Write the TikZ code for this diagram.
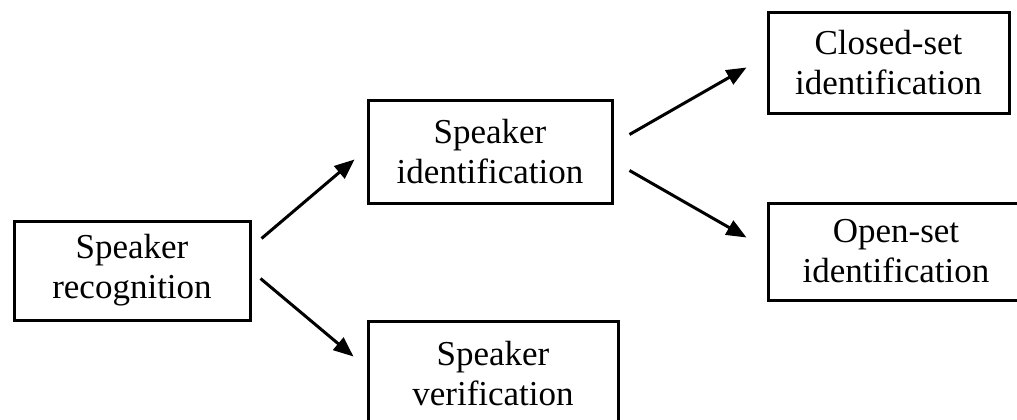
\documentclass[tikz,border=0pt]{standalone}
\usepackage{fontspec}
\setmainfont{Liberation Serif}
\usetikzlibrary{calc,arrows.meta}
\begin{document}
\begin{tikzpicture}[x=1pt,y=-1pt,
  box/.style={draw, line width=3pt, inner sep=0pt, align=center,
    font=\fontsize{35}{40}\selectfont},
  arr/.style={line width=3pt, -{Triangle[length=20pt,width=16pt]}}]
\useasboundingbox (0,0) rectangle (1017,420);
\node[box, minimum width=236pt, minimum height=99pt] (rec) at (132,270.5) {Speaker\\recognition};
\node[box, minimum width=244pt, minimum height=103pt] (idf) at (490,151.5) {Speaker\\identification};
\node[box, minimum width=250pt, minimum height=106pt] (ver) at (493,374) {Speaker\\verification};
\node[box, minimum width=241pt, minimum height=100pt] (cls) at (888.5,63) {Closed-set\\identification};
\node[box, minimum width=256pt, minimum height=97pt] (opn) at (896,251.5) {Open-set\\identification};
\draw[arr] ($(rec.north east)+(10,19)$) -- ($(idf.south west)+(-12,-45)$);
\draw[arr] ($(rec.south east)+(9,-43)$) -- ($(ver.north west)+(-13,37)$);
\draw[arr] ($(idf.north east)+(16,36)$) -- ($(cls.south west)+(-20,-47)$);
\draw[arr] ($(idf.south east)+(16,-34)$) -- ($(opn.north west)+(-20,36)$);
\end{tikzpicture}
\end{document}
